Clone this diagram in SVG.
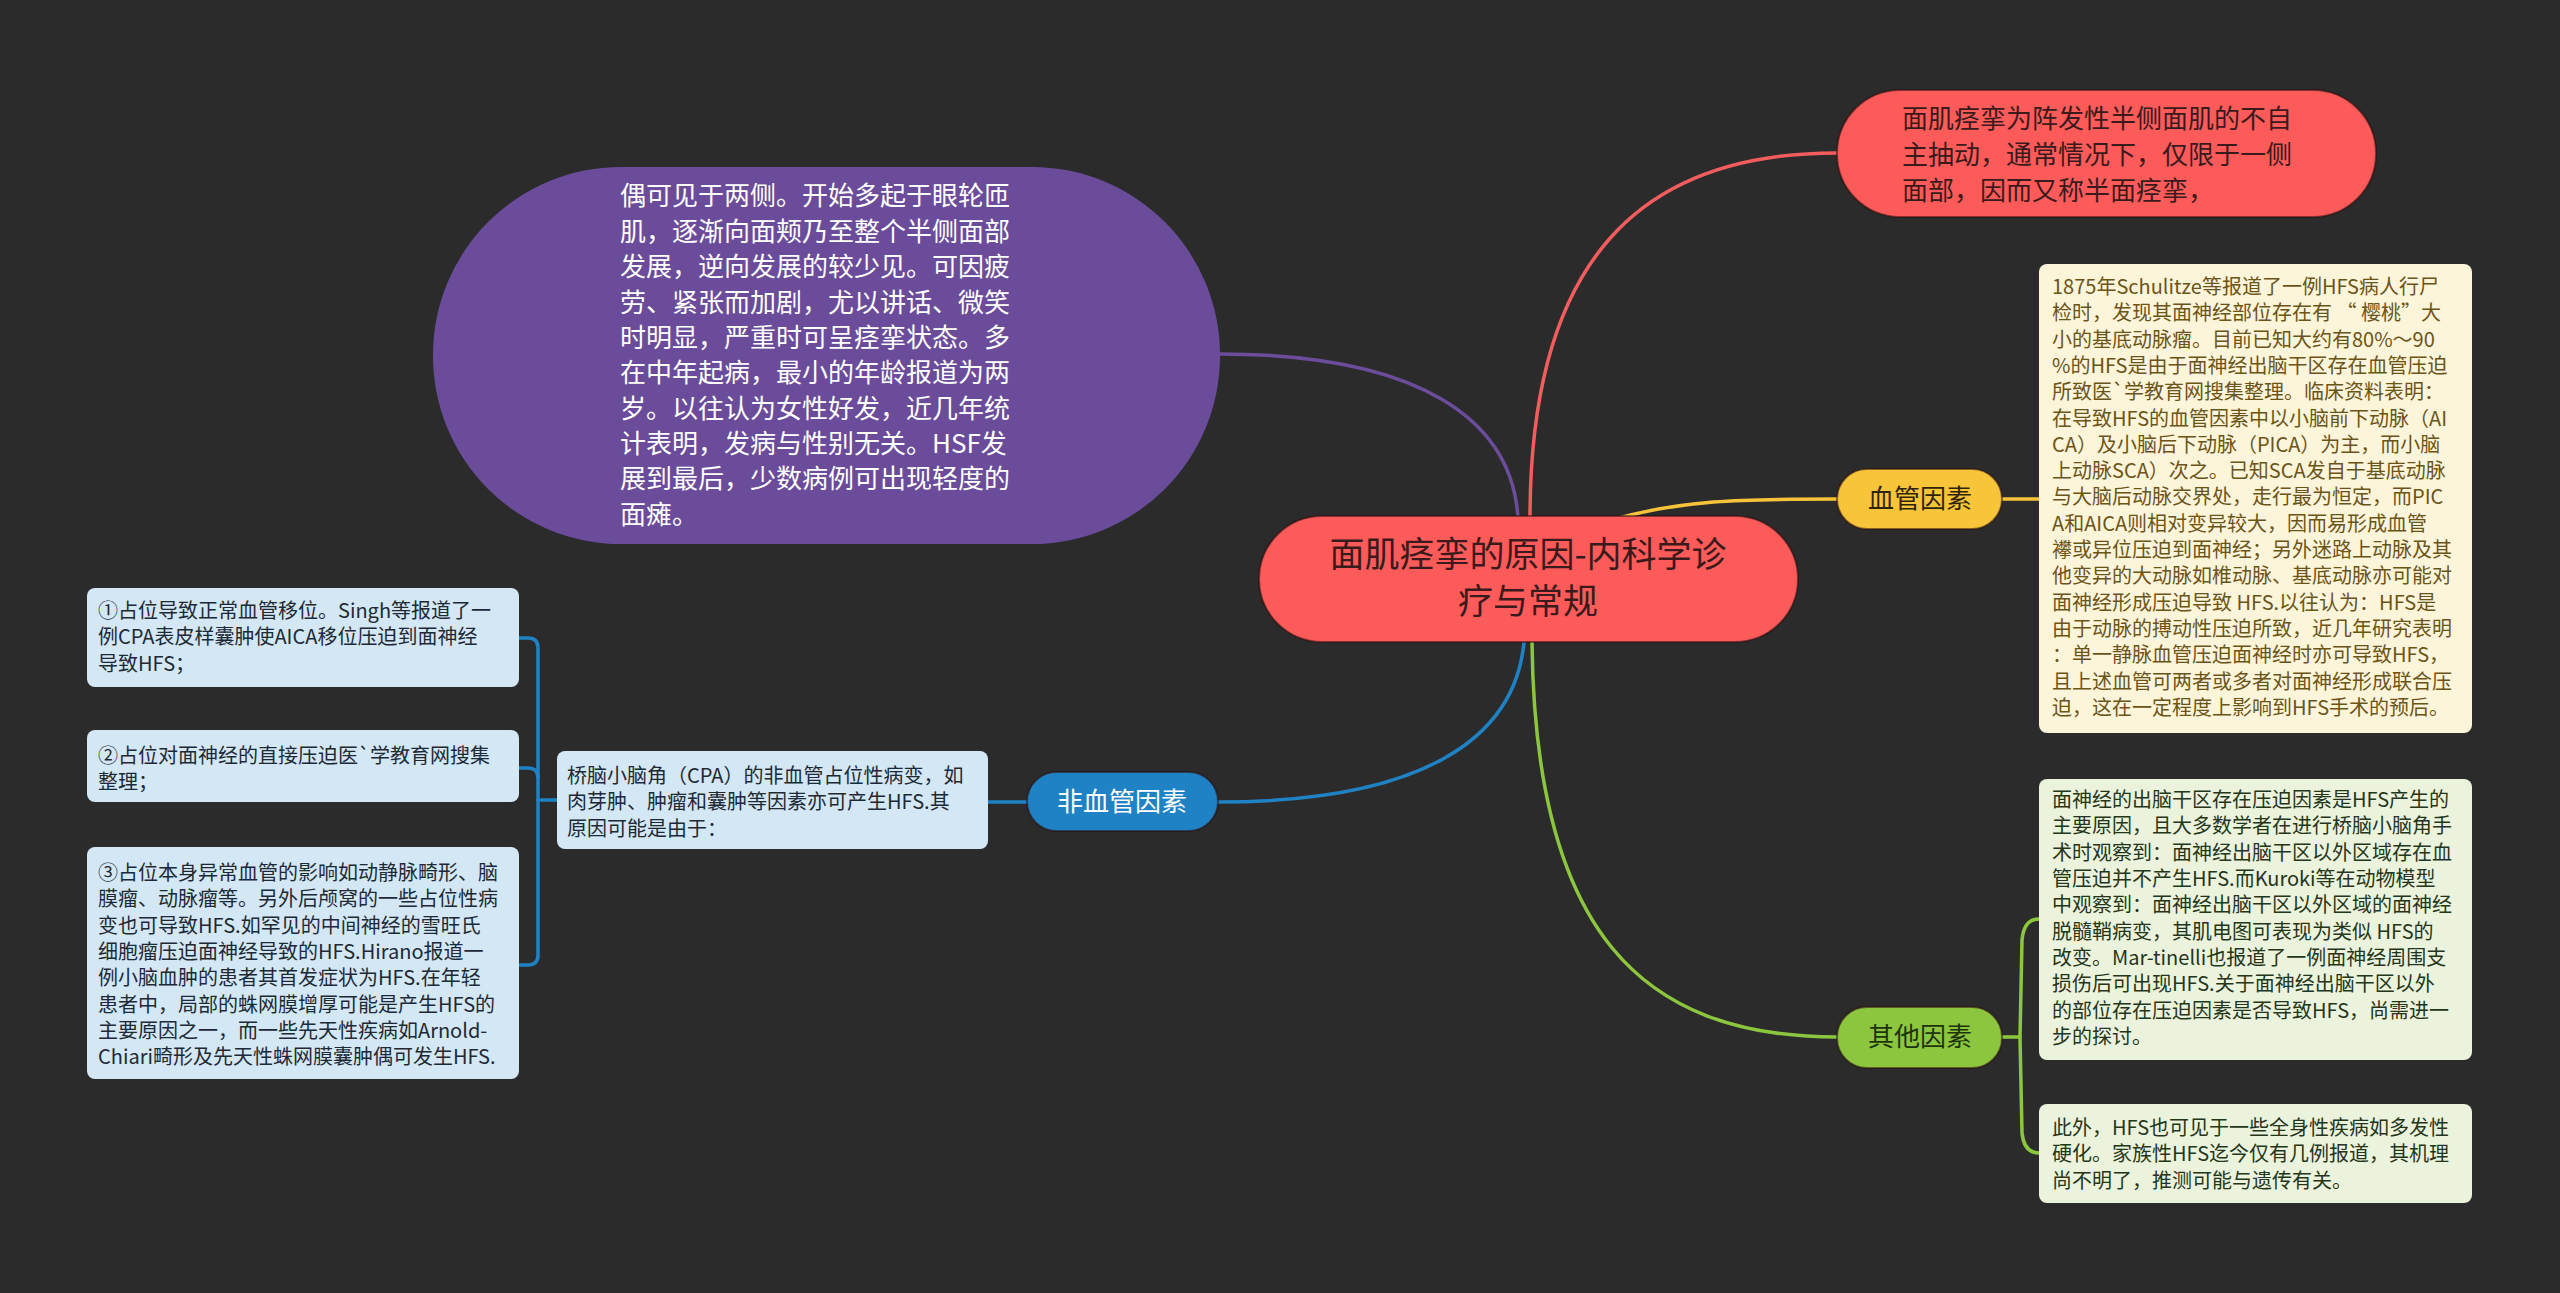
<svg xmlns="http://www.w3.org/2000/svg" width="2560" height="1293" viewBox="0 0 2560 1293">
<style>
text{font-family:"Noto Sans CJK SC","Noto Sans",sans-serif;}
.edge{fill:none;stroke-width:3.5;stroke-linecap:round;}
.big{font-size:35px;fill:#3a1a1a;text-anchor:middle;}
.br{font-size:26px;text-anchor:middle;}
.t26{font-size:26px;}
.t20{font-size:20px;}
.nodeStroke{stroke:#2a0f0f;stroke-opacity:0.55;stroke-width:2;}
</style>
<rect x="0" y="0" width="2560" height="1293" fill="#2b2b2b"/>

<g id="connectors">
  <path class="edge" stroke="#6b4d9b" d="M1518,518 C1512,420 1420,354 1220,354"/>
  <path class="edge" stroke="#f35d5d" d="M1530,518 C1530,260 1640,153 1837,153"/>
  <path class="edge" stroke="#f6c33a" d="M1612,520 C1680,500 1740,499 1837,499"/>
  <path class="edge" stroke="#f6c33a" d="M2002,499 L2039,499"/>
  <path class="edge" stroke="#1f82c5" d="M1524,642 C1515,740 1420,802 1218,802"/>
  <path class="edge" stroke="#1f82c5" d="M1027,802 L988,802"/>
  <path class="edge" stroke="#1f82c5" d="M557,800 L538,800"/>
  <path class="edge" stroke="#1f82c5" d="M519,638 L528,638 Q538,638 538,648 L538,955 Q538,965 528,965 L519,965"/>
  <path class="edge" stroke="#1f82c5" d="M519,768 L528,768 Q538,768 538,778"/>
  <path class="edge" stroke="#8cc63f" d="M1532,642 C1535,930 1640,1037 1837,1037"/>
  <path class="edge" stroke="#8cc63f" d="M2002,1037 L2020,1037"/>
  <path class="edge" stroke="#8cc63f" d="M2039,919 Q2024,919 2022,940 L2020,1037 L2022,1133 Q2024,1153 2039,1153"/>
</g>

<g id="center">
  <rect class="nodeStroke" x="1259" y="516" width="539" height="126" rx="63" fill="#fd5a5a"/>
  <text class="big"><tspan x="1528" y="567">面肌痉挛的原因-内科学诊</tspan><tspan x="1528" y="614">疗与常规</tspan></text>
</g>

<g id="node-purple">
  <rect x="433" y="167" width="787" height="377" rx="188" fill="#6a4c9b"/>
  <text class="t26" fill="#ffffff">
    <tspan x="620" y="205">偶可见于两侧。开始多起于眼轮匝</tspan>
    <tspan x="620" y="241">肌，逐渐向面颊乃至整个半侧面部</tspan>
    <tspan x="620" y="276">发展，逆向发展的较少见。可因疲</tspan>
    <tspan x="620" y="312">劳、紧张而加剧，尤以讲话、微笑</tspan>
    <tspan x="620" y="347">时明显，严重时可呈痉挛状态。多</tspan>
    <tspan x="620" y="382">在中年起病，最小的年龄报道为两</tspan>
    <tspan x="620" y="418">岁。以往认为女性好发，近几年统</tspan>
    <tspan x="620" y="453">计表明，发病与性别无关。HSF发</tspan>
    <tspan x="620" y="488">展到最后，少数病例可出现轻度的</tspan>
    <tspan x="620" y="524">面瘫。</tspan>
  </text>
</g>

<g id="node-red">
  <rect class="nodeStroke" x="1837" y="90" width="539" height="127" rx="63" fill="#fd5a5a"/>
  <text class="t26" fill="#3a1a1a">
    <tspan x="1902" y="128">面肌痉挛为阵发性半侧面肌的不自</tspan>
    <tspan x="1902" y="164">主抽动，通常情况下，仅限于一侧</tspan>
    <tspan x="1902" y="200">面部，因而又称半面痉挛，</tspan>
  </text>
</g>

<g id="node-vascular">
  <rect class="nodeStroke" x="1837" y="469" width="165" height="60" rx="30" fill="#f8c53a"/>
  <text class="br" x="1920" y="508" fill="#2e2408">血管因素</text>
</g>

<g id="detail-vascular">
  <rect x="2039" y="264" width="433" height="469" rx="8" fill="#fdf5da"/>
  <text class="t20" fill="#6b5418">
    <tspan x="2052" y="294">1875年Schulitze等报道了一例HFS病人行尸</tspan>
    <tspan x="2052" y="320">检时，发现其面神经部位存在有 “ 樱桃”大</tspan>
    <tspan x="2052" y="347">小的基底动脉瘤。目前已知大约有80%～90</tspan>
    <tspan x="2052" y="373">%的HFS是由于面神经出脑干区存在血管压迫</tspan>
    <tspan x="2052" y="399">所致医`学教育网搜集整理。临床资料表明：</tspan>
    <tspan x="2052" y="426">在导致HFS的血管因素中以小脑前下动脉（AI</tspan>
    <tspan x="2052" y="452">CA）及小脑后下动脉（PICA）为主，而小脑</tspan>
    <tspan x="2052" y="478">上动脉SCA）次之。已知SCA发自于基底动脉</tspan>
    <tspan x="2052" y="504">与大脑后动脉交界处，走行最为恒定，而PIC</tspan>
    <tspan x="2052" y="531">A和AICA则相对变异较大，因而易形成血管</tspan>
    <tspan x="2052" y="557">襻或异位压迫到面神经；另外迷路上动脉及其</tspan>
    <tspan x="2052" y="583">他变异的大动脉如椎动脉、基底动脉亦可能对</tspan>
    <tspan x="2052" y="610">面神经形成压迫导致 HFS.以往认为：HFS是</tspan>
    <tspan x="2052" y="636">由于动脉的搏动性压迫所致，近几年研究表明</tspan>
    <tspan x="2052" y="662">：单一静脉血管压迫面神经时亦可导致HFS，</tspan>
    <tspan x="2052" y="689">且上述血管可两者或多者对面神经形成联合压</tspan>
    <tspan x="2052" y="715">迫，这在一定程度上影响到HFS手术的预后。</tspan>
  </text>
</g>

<g id="node-other">
  <rect class="nodeStroke" x="1837" y="1007" width="165" height="61" rx="30" fill="#8cc63f"/>
  <text class="br" x="1920" y="1046" fill="#1e330a">其他因素</text>
</g>

<g id="detail-other-1">
  <rect x="2039" y="779" width="433" height="281" rx="8" fill="#ebf3dd"/>
  <text class="t20" fill="#24361a">
    <tspan x="2052" y="807">面神经的出脑干区存在压迫因素是HFS产生的</tspan>
    <tspan x="2052" y="833">主要原因，且大多数学者在进行桥脑小脑角手</tspan>
    <tspan x="2052" y="860">术时观察到：面神经出脑干区以外区域存在血</tspan>
    <tspan x="2052" y="886">管压迫并不产生HFS.而Kuroki等在动物模型</tspan>
    <tspan x="2052" y="912">中观察到：面神经出脑干区以外区域的面神经</tspan>
    <tspan x="2052" y="939">脱髓鞘病变，其肌电图可表现为类似 HFS的</tspan>
    <tspan x="2052" y="965">改变。Mar-tinelli也报道了一例面神经周围支</tspan>
    <tspan x="2052" y="991">损伤后可出现HFS.关于面神经出脑干区以外</tspan>
    <tspan x="2052" y="1018">的部位存在压迫因素是否导致HFS，尚需进一</tspan>
    <tspan x="2052" y="1044">步的探讨。</tspan>
  </text>
</g>

<g id="detail-other-2">
  <rect x="2039" y="1104" width="433" height="99" rx="8" fill="#ebf3dd"/>
  <text class="t20" fill="#24361a">
    <tspan x="2052" y="1135">此外，HFS也可见于一些全身性疾病如多发性</tspan>
    <tspan x="2052" y="1161">硬化。家族性HFS迄今仅有几例报道，其机理</tspan>
    <tspan x="2052" y="1188">尚不明了，推测可能与遗传有关。</tspan>
  </text>
</g>

<g id="node-nonvascular">
  <rect class="nodeStroke" x="1027" y="772" width="191" height="59" rx="29.5" fill="#1f82c5"/>
  <text class="br" x="1122" y="811" fill="#ffffff">非血管因素</text>
</g>

<g id="detail-cpa">
  <rect x="557" y="751" width="431" height="98" rx="8" fill="#d3e7f5"/>
  <text class="t20" fill="#1d2a35">
    <tspan x="567" y="783">桥脑小脑角（CPA）的非血管占位性病变，如</tspan>
    <tspan x="567" y="809">肉芽肿、肿瘤和囊肿等因素亦可产生HFS.其</tspan>
    <tspan x="567" y="836">原因可能是由于：</tspan>
  </text>
</g>

<g id="detail-1">
  <rect x="87" y="588" width="432" height="99" rx="8" fill="#d3e7f5"/>
  <text class="t20" fill="#1d2a35">
    <tspan x="98" y="618">①占位导致正常血管移位。Singh等报道了一</tspan>
    <tspan x="98" y="644">例CPA表皮样囊肿使AICA移位压迫到面神经</tspan>
    <tspan x="98" y="671">导致HFS；</tspan>
  </text>
</g>

<g id="detail-2">
  <rect x="87" y="730" width="432" height="72" rx="8" fill="#d3e7f5"/>
  <text class="t20" fill="#1d2a35">
    <tspan x="98" y="763">②占位对面神经的直接压迫医`学教育网搜集</tspan>
    <tspan x="98" y="789">整理；</tspan>
  </text>
</g>

<g id="detail-3">
  <rect x="87" y="847" width="432" height="232" rx="8" fill="#d3e7f5"/>
  <text class="t20" fill="#1d2a35">
    <tspan x="98" y="880">③占位本身异常血管的影响如动静脉畸形、脑</tspan>
    <tspan x="98" y="906">膜瘤、动脉瘤等。另外后颅窝的一些占位性病</tspan>
    <tspan x="98" y="933">变也可导致HFS.如罕见的中间神经的雪旺氏</tspan>
    <tspan x="98" y="959">细胞瘤压迫面神经导致的HFS.Hirano报道一</tspan>
    <tspan x="98" y="985">例小脑血肿的患者其首发症状为HFS.在年轻</tspan>
    <tspan x="98" y="1012">患者中，局部的蛛网膜增厚可能是产生HFS的</tspan>
    <tspan x="98" y="1038">主要原因之一，而一些先天性疾病如Arnold-</tspan>
    <tspan x="98" y="1064">Chiari畸形及先天性蛛网膜囊肿偶可发生HFS.</tspan>
  </text>
</g>
</svg>
